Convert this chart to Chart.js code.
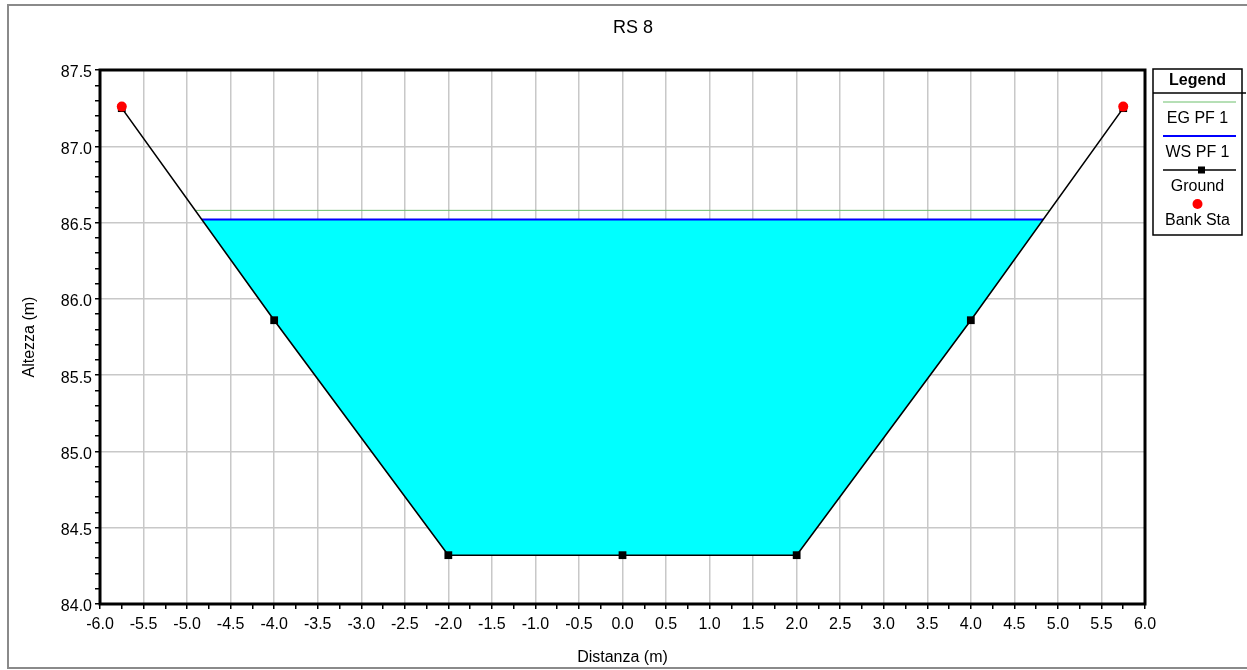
<!DOCTYPE html>
<html>
<head>
<meta charset="utf-8">
<title>RS 8</title>
<script src="https://cdn.jsdelivr.net/npm/chart.js@4.4.1/dist/chart.umd.min.js"></script>
<style>
  html, body { margin: 0; padding: 0; background: #fff; }
  #wrap { width: 1247px; height: 670px; position: relative; }
</style>
</head>
<body>
<div id="wrap"><canvas id="c" width="1247" height="670"></canvas></div>
<script>
// Cross section RS 8 — station (m) / elevation (m)
const groundX = [-5.75, -4.0, -2.0, 0.0, 2.0, 4.0, 5.75];
const groundY = [87.25, 85.86, 84.32, 84.32, 84.32, 85.86, 87.25];

const bankX = [-5.75, 5.75];
const bankY = [87.26, 87.26];

const wsElev = 86.52;          // water surface, profile PF 1
const wsX = [-4.83, 4.83];
const egElev = 86.58;          // energy grade, profile PF 1
const egX = [-4.9, 4.9];

// wetted section: water edge, ground points below the surface, water edge
const waterX = [-4.83, -4.0, -2.0, 0.0, 2.0, 4.0, 4.83];
const waterY = [86.52, 85.86, 84.32, 84.32, 84.32, 85.86, 86.52];

const xTickMin = -6.0, xTickMax = 6.0;
const yTickMin = 84.0, yTickMax = 87.5;

const chartTitle = 'RS 8';

const toPts = (xs, ys) => xs.map((x, i) => ({ x: x, y: ys[i] }));
const flat = (xs, y) => xs.map(x => ({ x: x, y: y }));

const FONT = "'Liberation Sans', Arial, sans-serif";
const isMajor = v => Math.abs(v * 2 - Math.round(v * 2)) < 1e-6;

// window frame, plot border and the heading
const frame = {
  id: 'frame',
  beforeDraw(chart) {
    const ctx = chart.ctx;
    ctx.save();
    ctx.fillStyle = '#fff';
    ctx.fillRect(0, 0, chart.width, chart.height);
    ctx.strokeStyle = '#8a8a8a';
    ctx.lineWidth = 2;
    ctx.strokeRect(8, 5, chart.width + 10, 663);
    ctx.fillStyle = '#000';
    ctx.font = "18px " + FONT;
    ctx.textAlign = 'center';
    ctx.textBaseline = 'middle';
    ctx.fillText(chartTitle, 633, 28);
    ctx.restore();
  },
  afterDatasetsDraw(chart) {
    const a = chart.chartArea, ctx = chart.ctx;
    ctx.save();
    ctx.strokeStyle = '#000';
    ctx.lineWidth = 3;
    ctx.strokeRect(a.left, a.top, a.right - a.left, a.bottom - a.top);
    ctx.restore();
  }
};

// boxed legend at the right of the plot, built from the datasets
const boxLegend = {
  id: 'boxLegend',
  afterDraw(chart) {
    const ctx = chart.ctx;
    const L = 1153, R = 1242, T = 69, B = 235, cx = (L + R) / 2;
    ctx.save();
    ctx.strokeStyle = '#000';
    ctx.lineWidth = 1.5;
    ctx.strokeRect(L, T, R - L, B - T);
    ctx.beginPath();
    ctx.moveTo(L, 93); ctx.lineTo(R + 4, 93);
    ctx.stroke();
    ctx.fillStyle = '#000';
    ctx.textAlign = 'center';
    ctx.textBaseline = 'middle';
    ctx.font = "bold 16px " + FONT;
    ctx.fillText('Legend', cx, 81);
    ctx.font = "16px " + FONT;
    const entries = chart.data.datasets.filter(d => d.label);
    let y = 102;
    entries.forEach(d => {
      if (d.showLine !== false && d.borderWidth > 0) {
        ctx.strokeStyle = d.borderColor;
        ctx.lineWidth = d.borderWidth;
        ctx.beginPath();
        ctx.moveTo(L + 10, y); ctx.lineTo(R - 6, y);
        ctx.stroke();
      }
      if (d.pointRadius > 0) {
        ctx.fillStyle = d.pointBackgroundColor;
        if (d.pointStyle === 'rect') {
          ctx.fillRect(cx + 0.5, y - 3.5, 7, 7);
        } else {
          ctx.beginPath();
          ctx.arc(cx, y, d.pointRadius, 0, Math.PI * 2);
          ctx.fill();
        }
      }
      ctx.fillStyle = '#000';
      ctx.fillText(d.label, cx, y + 17);
      y += 34;
    });
    ctx.restore();
  }
};

new Chart(document.getElementById('c'), {
  type: 'scatter',
  data: {
    datasets: [
      {
        label: 'EG PF 1',
        data: flat(egX, egElev),
        showLine: true,
        borderColor: '#6cbf6c',
        borderWidth: 1,
        pointRadius: 0,
        order: 3
      },
      {
        label: 'WS PF 1',
        data: flat(wsX, wsElev),
        showLine: true,
        borderColor: '#0000ff',
        borderWidth: 2,
        pointRadius: 0,
        order: 2
      },
      {
        label: 'Ground',
        data: toPts(groundX, groundY),
        showLine: true,
        borderColor: '#000',
        borderWidth: 1.6,
        pointStyle: 'rect',
        pointRadius: 5.5,
        pointBackgroundColor: '#000',
        pointBorderColor: '#000',
        pointBorderWidth: 0,
        order: 1
      },
      {
        label: 'Bank Sta',
        data: toPts(bankX, bankY),
        showLine: false,
        borderWidth: 0,
        pointStyle: 'circle',
        pointRadius: 5,
        pointBackgroundColor: '#ff0000',
        pointBorderColor: '#ff0000',
        pointBorderWidth: 0,
        order: 0
      },
      {
        label: '',
        data: toPts(waterX, waterY),
        showLine: true,
        borderWidth: 0,
        borderColor: 'rgba(0,0,0,0)',
        backgroundColor: '#00ffff',
        fill: { value: wsElev },
        pointRadius: 0,
        order: 4
      }
    ]
  },
  options: {
    responsive: false,
    animation: false,
    layout: { padding: { top: 70, right: 102, bottom: 0, left: 0 } },
    plugins: {
      legend: { display: false },
      tooltip: { enabled: false },
      title: { display: false }
    },
    scales: {
      x: {
        type: 'linear',
        min: xTickMin,
        max: xTickMax,
        afterFit(scale) { scale.height = 66; },
        border: { display: false },
        grid: {
          color: ctx => (ctx.tick && isMajor(ctx.tick.value) && ctx.tick.value > xTickMin && ctx.tick.value < xTickMax) ? '#c8c8c8' : 'rgba(0,0,0,0)',
          lineWidth: 1.5,
          tickColor: '#000',
          tickLength: 5,
          tickWidth: 1.5
        },
        ticks: {
          stepSize: 0.25,
          autoSkip: false,
          maxRotation: 0,
          padding: 6,
          color: '#000',
          font: { family: FONT, size: 16 },
          callback: v => isMajor(v) ? v.toFixed(1) : ''
        },
        title: {
          display: true,
          text: 'Distanza (m)',
          color: '#000',
          font: { family: FONT, size: 16 },
          padding: { top: 0, bottom: 3 }
        }
      },
      y: {
        type: 'linear',
        min: yTickMin,
        max: yTickMax,
        afterFit(scale) { scale.width = 100; },
        border: { display: false },
        grid: {
          color: ctx => (ctx.tick && isMajor(ctx.tick.value) && ctx.tick.value > yTickMin + 1e-6 && ctx.tick.value < yTickMax - 1e-6) ? '#c8c8c8' : 'rgba(0,0,0,0)',
          lineWidth: 1.5,
          tickColor: '#000',
          tickLength: 5,
          tickWidth: 1.5
        },
        ticks: {
          stepSize: 0.1,
          autoSkip: false,
          padding: 3,
          labelOffset: 3,
          color: '#000',
          font: { family: FONT, size: 16 },
          callback: v => isMajor(v) ? v.toFixed(1) : ''
        },
        title: {
          display: true,
          text: 'Altezza (m)',
          color: '#000',
          font: { family: FONT, size: 16 },
          padding: { top: 20, bottom: 0 }
        }
      }
    }
  },
  plugins: [frame, boxLegend]
});
</script>
</body>
</html>
